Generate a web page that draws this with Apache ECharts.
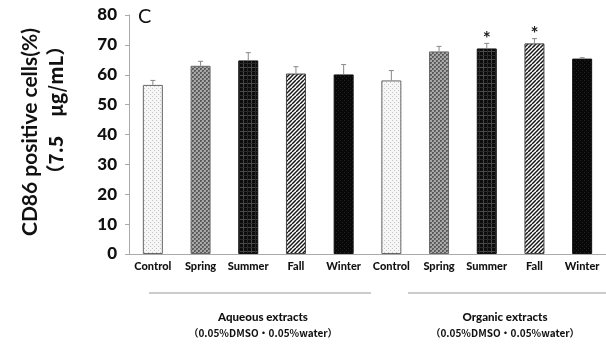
<!DOCTYPE html>
<html><head><meta charset="utf-8">
<script src="https://cdn.jsdelivr.net/npm/echarts@6/dist/echarts.min.js"></script>
<style>html,body{margin:0;padding:0;background:#fff}#c{width:606px;height:345px}</style>
</head><body><div id="c"></div>
<script>
const categories = ['Control','Spring','Summer','Fall','Winter','Control','Spring','Summer','Fall','Winter'];
const values = [56.6, 63.0, 64.8, 60.4, 60.1, 58.1, 67.8, 68.8, 70.5, 65.4];
const errors = [1.5, 1.5, 2.6, 2.3, 3.3, 3.3, 1.7, 1.7, 1.6, 0.3];
const significant = ['', '', '', '', '', '', '', '*', '*', ''];
const yTicks = [0, 80, 10];
const groupNames = ['Aqueous extracts', 'Organic extracts'];
const groupSub = ['（0.05%DMSO・0.05%water）', '（0.05%DMSO・0.05%water）'];

function pat(w, h, draw) {
  const c = document.createElement('canvas'); c.width = w; c.height = h;
  const g = c.getContext('2d'); draw(g, w, h);
  return { image: c, repeat: 'repeat' };
}
const patterns = [
  pat(4, 4, g => { g.fillStyle = '#f6f6f6'; g.fillRect(0,0,4,4); g.fillStyle = '#c4c4c4'; g.fillRect(0,0,1,1); g.fillRect(2,2,1,1); }),
  pat(4, 4, g => { g.fillStyle = '#a8a8a8'; g.fillRect(0,0,4,4); g.fillStyle = '#5a5a5a';
      g.fillRect(0,0,2,2); g.fillRect(2,2,2,2); g.fillStyle = '#7a7a7a'; g.fillRect(1,1,1,1); g.fillRect(3,3,1,1); }),
  pat(8, 8, g => { g.fillStyle = '#0c0c0c'; g.fillRect(0,0,8,8); g.fillStyle = '#4a4a4a'; g.fillRect(0,3,8,1); g.fillRect(3,0,1,8);
      g.fillStyle = '#2a2a2a'; g.fillRect(0,7,8,1); g.fillRect(7,0,1,8); }),
  pat(8, 8, g => { g.fillStyle = '#fff'; g.fillRect(0,0,8,8); g.strokeStyle = '#151515'; g.lineWidth = 1.5;
      for (let k = -8; k <= 16; k += 4) { g.beginPath(); g.moveTo(k, 8); g.lineTo(k + 8, 0); g.stroke(); } }),
  pat(4, 4, g => { g.fillStyle = '#080808'; g.fillRect(0,0,4,4); g.fillStyle = '#262626'; g.fillRect(0,0,1,1); g.fillRect(2,2,1,1); })
];
const borders = ['#666', '#666', '#111', '#444', '#111'];

const chart = echarts.init(document.getElementById('c'));
const FONT = 'Lato';
chart.setOption({
  animation: false,
  backgroundColor: '#fff',
  grid: { left: 129, top: 15, width: 479, bottom: 91, containLabel: false },
  xAxis: {
    type: 'category', data: categories,
    axisLine: { lineStyle: { color: '#aaa', width: 1 } },
    axisTick: { show: false },
    axisLabel: { color: '#111', fontWeight: 900, fontSize: 11, fontFamily: FONT, margin: 7, interval: 0 }
  },
  yAxis: {
    type: 'value', min: yTicks[0], max: yTicks[1], interval: yTicks[2],
    splitLine: { show: false },
    axisLine: { show: true, lineStyle: { color: '#aaa' } },
    axisTick: { show: true, length: 4, lineStyle: { color: '#aaa' } },
    axisLabel: { color: '#111', fontWeight: 900, fontSize: 17, fontFamily: FONT, margin: 12 }
  },
  series: [
    {
      type: 'bar', barWidth: 20,
      data: values.map((v, i) => ({
        value: v,
        itemStyle: { color: patterns[i % 5], borderColor: borders[i % 5], borderWidth: 1 }
      }))
    },
    {
      type: 'custom',
      data: values.map((v, i) => [i, v, v + errors[i]]),
      renderItem: function (params, api) {
        const i = api.value(0);
        const p0 = api.coord([i, api.value(1)]);
        const p1 = api.coord([i, api.value(2)]);
        const children = [
          { type: 'line', shape: { x1: p0[0], y1: p0[1], x2: p1[0], y2: p1[1] }, style: { stroke: '#888', lineWidth: 1 } },
          { type: 'line', shape: { x1: p0[0] - 2.5, y1: p1[1], x2: p0[0] + 2.5, y2: p1[1] }, style: { stroke: '#888', lineWidth: 1 } }
        ];
        const s = significant[i];
        if (s) children.push({ type: 'text', x: p0[0], y: p1[1] - 5, style: { text: s, fill: '#222', font: 'bold 19px ' + FONT, textAlign: 'center', textVerticalAlign: 'middle' } });
        return { type: 'group', children: children };
      },
      z: 5
    }
  ],
  graphic: [
    { type: 'text', x: 138, y: 7, style: { text: 'C', fill: '#111', font: '20px ' + FONT } },
    { type: 'text', x: 30, y: 132, rotation: Math.PI / 2, style: { text: 'CD86 positive cells(%)', fill: '#111', font: 'bold 21px ' + FONT, textAlign: 'center', textVerticalAlign: 'middle' } },
    { type: 'text', x: 56, y: 110, rotation: Math.PI / 2, style: { text: '（7.5　μg/mL）', fill: '#111', font: 'bold 19px "Noto Sans CJK JP"', textAlign: 'center', textVerticalAlign: 'middle' } },
    { type: 'line', shape: { x1: 149, y1: 293, x2: 371, y2: 293 }, style: { stroke: '#999', lineWidth: 1 } },
    { type: 'line', shape: { x1: 408, y1: 293, x2: 606, y2: 293 }, style: { stroke: '#999', lineWidth: 1 } },
    { type: 'text', x: 263, y: 317, style: { text: groupNames[0], fill: '#111', font: '900 11.5px ' + FONT, textAlign: 'center', textVerticalAlign: 'middle' } },
    { type: 'text', x: 263, y: 333, style: { text: groupSub[0], fill: '#111', font: 'bold 10px "Noto Sans CJK JP"', textAlign: 'center', textVerticalAlign: 'middle' } },
    { type: 'text', x: 505, y: 317, style: { text: groupNames[1], fill: '#111', font: '900 11.5px ' + FONT, textAlign: 'center', textVerticalAlign: 'middle' } },
    { type: 'text', x: 505, y: 333, style: { text: groupSub[1], fill: '#111', font: 'bold 10px "Noto Sans CJK JP"', textAlign: 'center', textVerticalAlign: 'middle' } }
  ]
});
</script></body></html>
